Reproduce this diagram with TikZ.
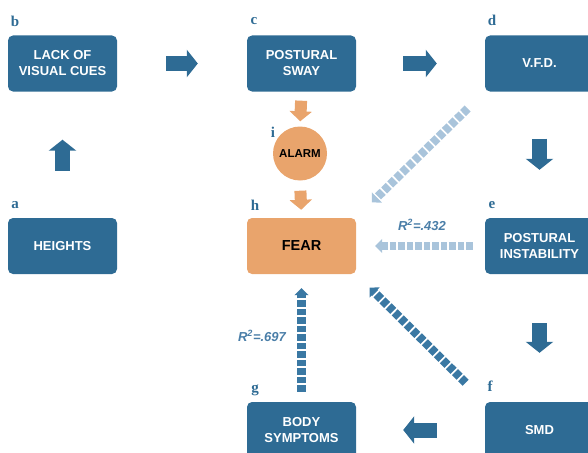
\documentclass[tikz,border=0pt]{standalone}
\usepackage{fontspec}
\setmainfont{Liberation Sans}
\newfontfamily\lblfont{Liberation Serif}
\usetikzlibrary{arrows.meta}
\definecolor{boxblue}{HTML}{2E6B94}
\definecolor{boxorange}{HTML}{E9A46C}
\definecolor{lightdash}{HTML}{A9C4DB}
\definecolor{darkdash}{HTML}{3A78A3}
\definecolor{rtext}{HTML}{4A7EA8}
\begin{document}
\begin{tikzpicture}[x=1pt,y=-1pt,
  box/.style={rectangle, rounded corners=5pt, fill=boxblue, text=white,
    minimum width=109pt, minimum height=56pt, inner sep=0pt, align=center,
    font=\bfseries\fontsize{13}{16}\selectfont},
  obox/.style={box, fill=boxorange, text=black, font=\bfseries\fontsize{14.5}{16}\selectfont},
  alarmc/.style={circle, fill=boxorange, text=black, minimum size=54pt, inner sep=0pt,
    font=\bfseries\fontsize{11.5}{12}\selectfont},
  lbl/.style={text=boxblue, font=\lblfont\bfseries\fontsize{15}{15}\selectfont, inner sep=0pt},
  blockarr/.style={draw=boxblue, line width=15pt, line cap=butt,
    -{Triangle[width=27pt,length=11pt]}},
  oarr/.style={draw=boxorange, line width=12pt, line cap=butt,
    -{Triangle[width=22pt,length=10pt]}},
  dasharr/.style={line width=8.5pt, line cap=butt, dash pattern=on 6.5pt off 2pt,
    -{Triangle[width=14pt,length=7pt]}},
  rlbl/.style={text=rtext, font=\bfseries\itshape\fontsize{13}{13}\selectfont, inner sep=0pt}
]
\useasboundingbox (0,0) rectangle (588,452);
\clip (0,0) rectangle (588,452);
% boxes
\node[box] (b) at (62.5,63.5) {LACK OF\\VISUAL CUES};
\node[box] (c) at (301.5,63.5) {POSTURAL\\SWAY};
\node[box] (d) at (539.5,63.5) {V.F.D.};
\node[box] (a) at (62.5,246) {HEIGHTS};
\node[obox] (h) at (301.5,246) {FEAR};
\node[box] (e) at (539.5,246) {POSTURAL\\INSTABILITY};
\node[box] (g) at (301.5,430) {BODY\\SYMPTOMS};
\node[box] (f) at (539.5,430) {SMD};
\node[alarmc] (i) at (300,153.5) {ALARM};
% letters
\node[lbl] (la) at (15,205) {a};
\node[lbl] (lb) at (15,21) {b};
\node[lbl] (lc) at (254,21) {c};
\node[lbl] (ld) at (492,20) {d};
\node[lbl] (le) at (492,205) {e};
\node[lbl] (lf) at (490,386) {f};
\node[lbl] (lg) at (255,390) {g};
\node[lbl] (lh) at (255,205) {h};
\node[lbl] (li) at (273,132) {i};
% solid block arrows
\draw[blockarr, shorten <=49pt, shorten >=49pt] (b.east) -- (c.west);
\draw[blockarr, shorten <=47pt, shorten >=48pt] (c.east) -- (d.west);
\draw[blockarr, shorten <=47pt, shorten >=48pt] (a.north) -- (b.south);
\draw[blockarr, shorten <=47pt, shorten >=48pt] (d.south) -- (e.north);
\draw[blockarr, shorten <=49pt, shorten >=49pt] (e.south) -- (f.north);
\draw[blockarr, shorten <=48pt, shorten >=47pt] (f.west) -- (g.east);
\draw[oarr, shorten <=9pt, shorten >=5pt] (c.south) -- (i.north);
\draw[oarr, shorten <=10pt, shorten >=8pt] (i.south) -- (h.north);
% dashed arrows
\draw[dasharr, draw=lightdash, shorten <=24pt, shorten >=22pt] (d.south west) -- (h.north east);
\draw[dasharr, draw=lightdash, shorten <=12pt, shorten >=19pt] (e.west) -- (h.east);
\draw[dasharr, draw=darkdash, shorten <=27pt, shorten >=19pt] (f.north west) -- (h.south east);
\draw[dasharr, draw=darkdash, shorten <=10pt, shorten >=14pt] (g.north) -- (h.south);
% labels
\node[rlbl] (r1) at (422,225) {R\textsuperscript{2}=.432};
\node[rlbl] (r2) at (262,336) {R\textsuperscript{2}=.697};
\end{tikzpicture}
\end{document}
